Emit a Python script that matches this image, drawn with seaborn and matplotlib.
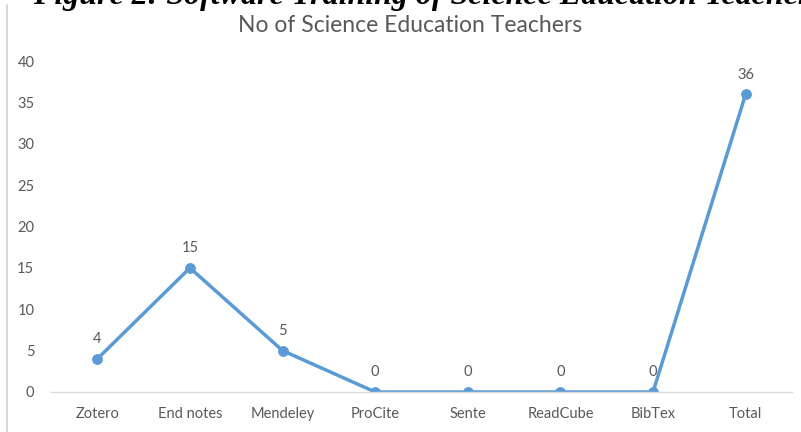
import matplotlib
matplotlib.use("Agg")
import matplotlib.pyplot as plt
import seaborn as sns
import pandas as pd
from matplotlib.lines import Line2D

software = ["Zotero", "End notes", "Mendeley", "ProCite", "Sente", "ReadCube", "BibTex", "Total"]
teachers = [4, 15, 5, 0, 0, 0, 0, 36]

df = pd.DataFrame({"software": software, "teachers": teachers})

sns.set_style("white")
plt.rcParams["font.family"] = ["Lato", "DejaVu Sans"]

fig = plt.figure(figsize=(8.01, 4.32), dpi=100)
ax = fig.add_axes([0.0637, 0.0926, 0.925, 0.766])

blue = "#5B9BD5"
grey = "#595959"

sns.lineplot(data=df, x="software", y="teachers", ax=ax, color=blue, linewidth=2.5,
             marker="o", markersize=7, markeredgecolor=blue, sort=False)

for i, v in enumerate(teachers):
    ax.annotate(str(v), (i, v), xytext=(0, 9), textcoords="offset points",
                ha="center", va="bottom", fontsize=10.5, color=grey)

ax.set_xlim(-0.5, len(software) - 0.5)
ax.set_ylim(0, 40)
ax.set_yticks(range(0, 41, 5))
ax.set_xlabel("")
ax.set_ylabel("")
ax.tick_params(axis="both", length=0, labelsize=10.5, labelcolor=grey)
ax.tick_params(axis="x", pad=11)
ax.tick_params(axis="y", pad=12)
for side in ["top", "right", "left"]:
    ax.spines[side].set_visible(False)
ax.spines["bottom"].set_color("#D9D9D9")
ax.spines["bottom"].set_linewidth(1)

fig.text(0.512, 1 - 32 / 432, "No of Science Education Teachers", ha="center", va="baseline",
         fontsize=16.5, color=grey)

# figure caption, cut at the top edge as in the source image
fig.text(33 / 801, 1 - 4 / 432, "Figure 2: Software Training of Science Education Teachers",
         ha="left", va="baseline", fontsize=23, fontweight="bold", fontstyle="italic",
         family=["Liberation Serif", "DejaVu Serif"], color="black")

fig.add_artist(Line2D([0.0085, 0.0085], [0, 1 - 5 / 432], color="#D0D0D0", linewidth=1.2,
                      transform=fig.transFigure))

fig.savefig("out.png", dpi=100)
